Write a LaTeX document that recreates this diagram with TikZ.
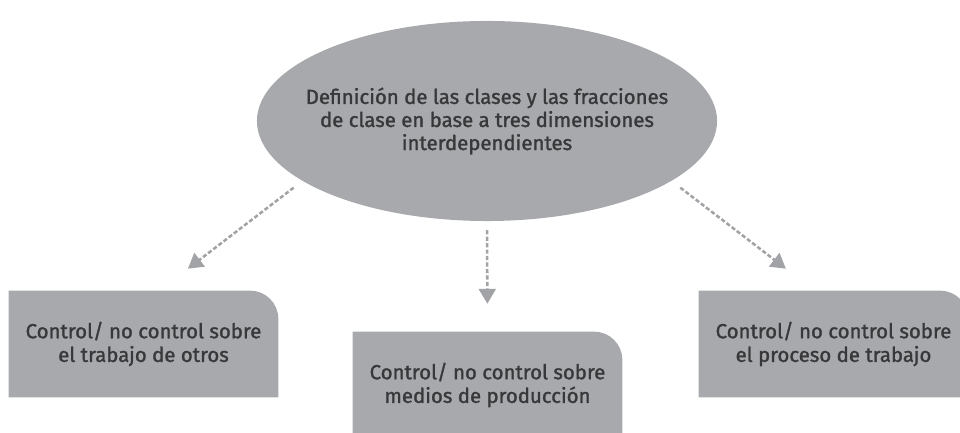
\documentclass[tikz,border=0pt]{standalone}
\usepackage{fontspec}
\setmainfont{Fira Sans}
\newfontfamily\labelfont{Fira Sans}[FakeBold=1.4]
\usetikzlibrary{shapes.geometric,arrows.meta,backgrounds}
\definecolor{BoxGray}{HTML}{A7A9AC}
\definecolor{LinkGray}{HTML}{A2A3A6}
\definecolor{TextGray}{HTML}{38383A}
\tikzset{
    idea/.style={ellipse, fill=BoxGray, minimum width=11.5cm, minimum height=5cm, inner xsep=-0.5cm, inner ysep=0pt, align=center, text=TextGray, font=\labelfont\fontsize{14.5}{16.4}\selectfont},
    dimbox/.style={minimum width=6.725cm, minimum height=2.65cm, inner sep=0pt, align=center, text=TextGray, font=\labelfont\fontsize{14.5}{16.8}\selectfont},
    link/.style={LinkGray, line width=1.8pt, dash pattern=on 3pt off 1.6pt, -{Triangle[width=12pt,length=10.5pt]}}
}
\begin{document}
\begin{tikzpicture}[x=0.025cm,y=0.025cm]
        \useasboundingbox (0,0) rectangle (960,433);

        \node[idea] (clases) at (487,312) {Definición de las clases y las fracciones\\de clase en base a tres dimensiones\\interdependientes};

        \node[dimbox] (otros) at (143.5,89) {Control/ no control sobre\\el trabajo de otros};
        \node[dimbox] (medios) at (487.5,48) {Control/ no control sobre\\medios de producción};
        \node[dimbox] (proceso) at (833.5,89) {Control/ no control sobre\\el proceso de trabajo};

        \begin{scope}[on background layer]
            \foreach \b in {otros,medios,proceso}
                \fill[BoxGray] (\b.south west) -- (\b.north west) -- ([xshift=-0.7cm]\b.north east) arc[start angle=90, end angle=0, radius=0.7cm] -- (\b.south east) -- cycle;
        \end{scope}

        \coordinate (otros-tip) at ([shift={(1.11cm,0.55cm)}]otros.north);
        \coordinate (proceso-tip) at ([shift={(-1.19cm,0.55cm)}]proceso.north);

        \draw[link, shorten <=0.275cm] (clases.198) -- (otros-tip);
        \draw[link, shorten <=0.22cm, shorten >=0.7cm] (clases.south) -- (medios.north);
        \draw[link, shorten <=0.275cm] (clases.342) -- (proceso-tip);
    \end{tikzpicture}
\end{document}
